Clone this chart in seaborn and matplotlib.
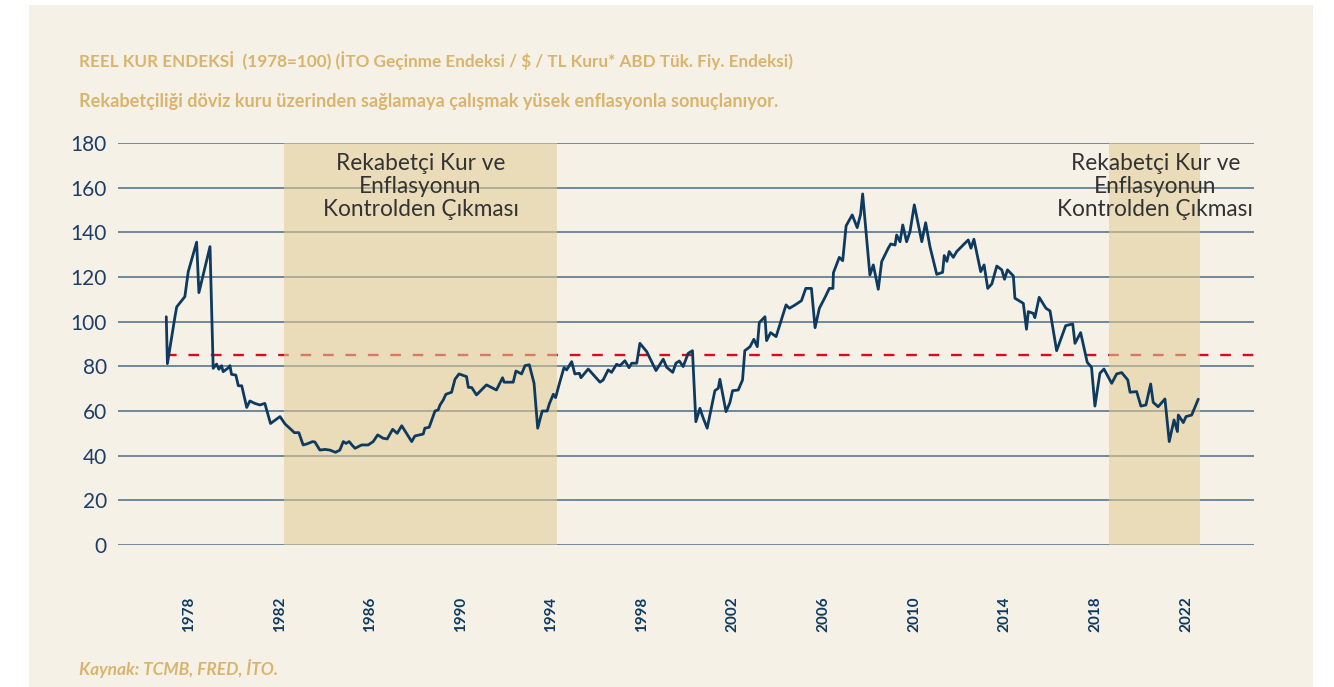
import matplotlib
matplotlib.use("Agg")
import matplotlib.pyplot as plt
import seaborn as sns
import pandas as pd
from matplotlib.patches import Rectangle

# ---------------- data ----------------
years = [1977.00, 1977.05, 1977.38, 1977.46, 1977.82, 1977.97, 1978.34, 1978.44, 1978.93, 1979.07,
         1979.22, 1979.32, 1979.44, 1979.51, 1979.71, 1979.81, 1979.88, 1980.07, 1980.18, 1980.33,
         1980.55, 1980.69, 1980.91, 1981.13, 1981.35, 1981.60, 1981.84, 1982.02, 1982.24, 1982.53,
         1982.65, 1982.85, 1983.04, 1983.19, 1983.46, 1983.56, 1983.78, 1984.00, 1984.22, 1984.47,
         1984.66, 1984.81, 1984.93, 1985.07, 1985.21, 1985.33, 1985.62, 1985.91, 1986.13, 1986.33,
         1986.57, 1986.75, 1986.99, 1987.19, 1987.39, 1987.83, 1987.97, 1988.34, 1988.41, 1988.60,
         1988.86, 1989.00, 1989.08, 1989.22, 1989.34, 1989.59, 1989.74, 1989.92, 1990.25, 1990.33,
         1990.48, 1990.69, 1991.13, 1991.57, 1991.84, 1991.91, 1992.31, 1992.43, 1992.68, 1992.83,
         1993.02, 1993.23, 1993.39, 1993.59, 1993.81, 1993.90, 1994.08, 1994.18, 1994.37, 1994.55,
         1994.67, 1994.89, 1995.03, 1995.23, 1995.30, 1995.62, 1996.14, 1996.28, 1996.50, 1996.65,
         1996.87, 1997.02, 1997.24, 1997.42, 1997.54, 1997.76, 1997.90, 1998.20, 1998.61, 1998.93,
         1999.08, 1999.35, 1999.49, 1999.64, 1999.81, 2000.03, 2000.22, 2000.37, 2000.55, 2000.67,
         2000.87, 2001.21, 2001.36, 2001.43, 2001.70, 2001.87, 2001.99, 2002.24, 2002.43, 2002.53,
         2002.76, 2002.93, 2003.08, 2003.17, 2003.42, 2003.49, 2003.67, 2003.91, 2004.35, 2004.50,
         2004.75, 2005.03, 2005.22, 2005.47, 2005.63, 2005.82, 2006.07, 2006.26, 2006.42, 2006.44,
         2006.70, 2006.85, 2007.00, 2007.27, 2007.49, 2007.64, 2007.73, 2008.05, 2008.20, 2008.42,
         2008.57, 2008.86, 2008.97, 2009.16, 2009.23, 2009.38, 2009.50, 2009.67, 2009.82, 2010.01,
         2010.34, 2010.51, 2010.70, 2011.00, 2011.26, 2011.33, 2011.45, 2011.55, 2011.73, 2011.88,
         2012.39, 2012.51, 2012.64, 2012.94, 2013.09, 2013.25, 2013.43, 2013.65, 2013.87, 2013.99,
         2014.12, 2014.38, 2014.45, 2014.82, 2014.96, 2015.04, 2015.26, 2015.33, 2015.52, 2015.82,
         2016.00, 2016.29, 2016.69, 2017.00, 2017.10, 2017.35, 2017.64, 2017.83, 2017.98, 2018.20,
         2018.38, 2018.72, 2018.94, 2019.16, 2019.43, 2019.53, 2019.82, 2020.01, 2020.23, 2020.44,
         2020.55, 2020.77, 2021.07, 2021.26, 2021.47, 2021.62, 2021.66, 2021.88, 2022.00, 2022.25,
         2022.54]
index_values = [102.2, 81.2, 102.0, 106.6, 111.2, 122.4, 135.6, 113.0, 133.6, 79.1,
                81.0, 78.7, 80.3, 77.6, 79.1, 80.3, 76.4, 76.1, 71.3, 71.3,
                61.6, 64.5, 63.4, 62.7, 63.4, 54.4, 56.2, 57.5, 54.2, 51.5,
                50.3, 50.3, 44.8, 45.2, 46.3, 46.1, 42.5, 42.8, 42.5, 41.5,
                42.5, 46.3, 45.5, 46.3, 44.6, 43.3, 44.8, 44.8, 46.3, 49.3,
                47.8, 47.5, 51.8, 50.0, 53.4, 46.3, 48.8, 49.7, 52.3, 52.7,
                60.0, 60.5, 62.7, 64.9, 67.5, 68.4, 74.2, 76.6, 75.4, 70.6,
                70.5, 67.2, 71.7, 69.4, 74.9, 72.9, 72.9, 77.9, 76.6, 80.3,
                80.7, 72.4, 52.3, 60.0, 60.0, 63.1, 67.5, 66.0, 73.1, 79.4,
                78.4, 82.1, 76.6, 76.9, 74.9, 78.8, 72.9, 73.9, 78.4, 77.3,
                80.9, 80.3, 82.5, 79.4, 81.4, 81.4, 90.3, 86.6, 78.1, 83.2,
                79.6, 77.3, 81.4, 82.4, 79.9, 85.8, 87.0, 55.2, 61.2, 57.5,
                52.3, 69.1, 70.2, 74.2, 59.7, 63.7, 69.1, 69.4, 73.9, 87.0,
                88.8, 92.1, 88.8, 99.6, 102.2, 91.5, 95.1, 93.3, 107.5, 106.0,
                107.5, 109.4, 114.9, 114.9, 97.3, 106.0, 110.9, 114.9, 114.9, 121.9,
                128.8, 127.3, 142.9, 147.8, 142.1, 148.1, 157.2, 120.9, 125.4, 114.5,
                126.9, 132.9, 134.8, 134.3, 138.8, 135.8, 143.3, 135.8, 140.3, 152.3,
                135.8, 144.3, 133.6, 121.2, 122.1, 129.6, 127.0, 131.4, 128.8, 131.4,
                136.6, 132.9, 136.9, 122.4, 125.4, 114.9, 116.9, 124.9, 123.2, 119.0,
                123.2, 120.5, 110.5, 108.2, 96.6, 104.5, 103.7, 101.8, 110.9, 106.0,
                104.8, 87.0, 98.2, 99.0, 90.3, 95.1, 81.8, 79.6, 62.2, 76.9,
                78.8, 72.4, 76.6, 77.2, 73.9, 68.4, 68.7, 62.2, 62.7, 72.1,
                63.9, 61.9, 65.4, 46.3, 56.0, 50.8, 58.2, 54.8, 57.5, 58.2,
                65.3]

ref_level = 85
shade_periods = [(1982.2, 1994.24), (2018.6, 2022.62)]
tick_years = [1978, 1982, 1986, 1990, 1994, 1998, 2002, 2006, 2010, 2014, 2018, 2022]
y_ticks = [0, 20, 40, 60, 80, 100, 120, 140, 160, 180]

title = "REEL KUR ENDEKSİ  (1978=100) (İTO Geçinme Endeksi / $ / TL Kuru* ABD Tük. Fiy. Endeksi)"
subtitle = "Rekabetçiliği döviz kuru üzerinden sağlamaya çalışmak yüsek enflasyonla sonuçlanıyor."
source = "Kaynak: TCMB, FRED, İTO."
annotation = "Rekabetçi Kur ve\nEnflasyonun\nKontrolden Çıkması"

df = pd.DataFrame({"year": years, "value": index_values})

# ---------------- style ----------------
sns.set_theme(style="white")
plt.rcParams["font.family"] = ["Lato", "DejaVu Sans"]

W, H = 1334, 687
fig = plt.figure(figsize=(W / 100, H / 100), dpi=100, facecolor="white")

BG = "#F6F1E7"
NAVY = "#0E3A5F"
GOLD = "#D9B46C"
bg_rect = Rectangle((29 / W, 0), (1313 - 29) / W, 1 - 5 / H,
                    transform=fig.transFigure, facecolor=BG, edgecolor="none", zorder=-10)
fig.patches.append(bg_rect)

ax = fig.add_axes([118 / W, 1 - 545 / H, (1254 - 118) / W, (545 - 143) / H])
ax.set_facecolor("none")
ax.set_zorder(1)

# grid
ax.set_axisbelow(True)
ax.set_yticks(y_ticks)
ax.yaxis.grid(True, color="#2E5275", linewidth=1.1, alpha=0.85)
ax.xaxis.grid(False)

# reference line
x_left, x_right = 1974.87, 2025.0
ax.hlines(ref_level, years[0], x_right, colors="#D0101E", linestyles=(0, (4.5, 5.0)),
          linewidth=1.7, zorder=1)

# shaded periods
for a, b in shade_periods:
    ax.axvspan(a, b, color="#E2CC96", alpha=0.56, linewidth=0, zorder=2)

sns.lineplot(data=df, x="year", y="value", ax=ax, sort=False, estimator=None,
             color=NAVY, linewidth=2.0, zorder=3)

# annotations
ann_kw = dict(ha="center", va="center", fontsize=16.3, color="#333333",
              linespacing=1.1, zorder=4)
ax.text(sum(shade_periods[0]) / 2, 160.5, annotation, **ann_kw)
ax.text(2020.65, 160.5, annotation, **ann_kw)

ax.set_xlim(x_left, x_right)
ax.set_ylim(0, 180)
ax.set_xticks(tick_years)
ax.set_xticklabels([str(t) for t in tick_years], rotation=90, fontweight="bold",
                   fontsize=11, color=NAVY)
ax.set_yticklabels([str(t) for t in y_ticks], fontsize=15, color="#1D3F66")
ax.tick_params(axis="x", length=0, pad=37)
ax.tick_params(axis="y", length=0, pad=8)
ax.set_xlabel("")
ax.set_ylabel("")
for s in ax.spines.values():
    s.set_visible(False)

# titles & source
fig.text(79 / W, 1 - 61 / H, title, ha="left", va="center", fontsize=12.3,
         fontweight="bold", color=GOLD)
fig.text(79 / W, 1 - 101 / H, subtitle, ha="left", va="center", fontsize=13.1,
         fontweight="bold", color=GOLD)
fig.text(79 / W, 1 - 668 / H, source, ha="left", va="center", fontsize=12.5,
         fontweight="bold", style="italic", color=GOLD)

fig.savefig("out.png", dpi=100, facecolor="white")
